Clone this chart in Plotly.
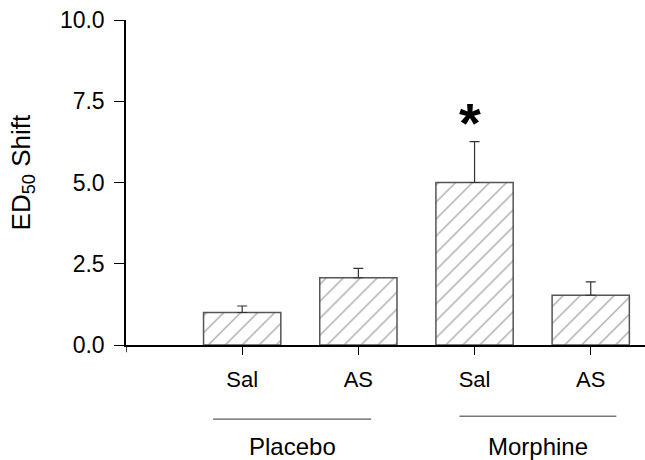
import plotly.graph_objects as go

categories = ["Sal", "AS", "Sal", "AS"]
positions = [1, 2, 3, 4]
values = [1.0, 2.07, 5.0, 1.53]
errors = [0.2, 0.29, 1.26, 0.41]
groups = ["Placebo", "Morphine"]
group_spans = [(0.75, 2.11), (2.87, 4.22)]
y_ticks = [0, 2.5, 5, 7.5, 10]
y_ticktext = ["0.0", "2.5", "5.0", "7.5", "10.0"]
sig_index = 2

FONT = "Liberation Sans, Arial, sans-serif"

fig = go.Figure()
fig.add_trace(go.Bar(
    x=positions, y=values, width=0.665,
    marker=dict(
        color="white",
        line=dict(color="#555555", width=1.5),
        pattern=dict(shape="/", fgcolor="#222222", bgcolor="white", size=12, solidity=0.09),
    ),
    error_y=dict(type="data", array=errors, arrayminus=[0] * len(errors),
                 symmetric=False, color="#333333", thickness=1.2, width=5),
    showlegend=False,
))

fig.update_layout(
    width=645, height=460,
    margin=dict(l=126, r=0, t=20, b=115),
    plot_bgcolor="white", paper_bgcolor="white",
    font=dict(family=FONT, size=22, color="black"),
    xaxis=dict(range=[0, 4.467], tickvals=positions, ticktext=categories,
               showline=True, linecolor="black", linewidth=2,
               ticks="outside", ticklen=8, tickwidth=1, tickcolor="black",
               ticklabelstandoff=6, showgrid=False, zeroline=False,
               tickfont=dict(size=22)),
    yaxis=dict(range=[0, 10], tickvals=y_ticks, ticktext=y_ticktext,
               showline=True, linecolor="black", linewidth=1.5,
               ticks="outside", ticklen=10, tickwidth=1, tickcolor="black",
               ticklabelstandoff=5,
               showgrid=False, zeroline=False,
               tickfont=dict(size=23)),
    bargap=0.3,
)

# y-axis title
fig.add_annotation(x=-0.2004, y=0.531, xref="paper", yref="paper",
                   text="ED<sub>50</sub> Shift", textangle=-90, showarrow=False,
                   font=dict(size=26), xanchor="center", yanchor="middle")

# y-axis line extends a little below zero
fig.add_shape(type="line", xref="x", yref="paper", x0=0, x1=0, y0=0, y1=-0.022,
              line=dict(color="black", width=1.5))

# group underline and labels
for name, (a, b) in zip(groups, group_spans):
    yline = -0.228 if name == "Placebo" else -0.219
    fig.add_shape(type="line", xref="x", yref="paper", x0=a, x1=b, y0=yline, y1=yline,
                  line=dict(color="#333333", width=1))
    fig.add_annotation(x=(a + b) / 2, y=-0.312, xref="x", yref="paper",
                       text=name, showarrow=False, font=dict(size=24),
                       xanchor="center", yanchor="middle")

# significance star
fig.add_annotation(x=positions[sig_index] - 0.04, y=values[sig_index] + errors[sig_index] - 0.44,
                   xref="x", yref="y", text="<b>*</b>", showarrow=False,
                   font=dict(size=56, color="black"), xanchor="center", yanchor="bottom")

fig.write_html("out.html")
